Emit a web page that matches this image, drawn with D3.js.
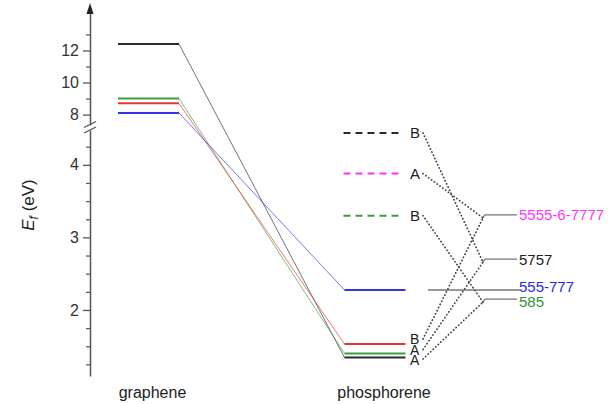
<!DOCTYPE html>
<html><head><meta charset="utf-8">
<script src="https://cdn.jsdelivr.net/npm/d3@7"></script>
<style>
body{margin:0;background:#fff;}
text{font-family:"Liberation Sans",Arial,Helvetica,sans-serif;}
</style></head>
<body><svg id="c" width="608" height="404"></svg>
<script>
// ---- data ----
const categories = ["graphene", "phosphorene"];
const levelNames = ["black", "green", "red", "blue"];
const grapheneEf = [12.4, 9.0, 8.7, 8.1];
const phosphoreneEf = [1.345, 1.40, 1.53, 2.275];
const phosLabels = ["A", "A", "B", null];
const dashedEf = [4.44, 3.88, 3.30];
const dashedLabels = ["B", "A", "B"];
const dashedNames = ["black", "magenta", "green"];
const defectTypes = ["5555-6-7777", "5757", "555-777", "585"];
const defectEf = [3.31, 2.70, 2.275, 2.15];
const defectColors = ["magenta", "black", "blue", "green"];
// dotted links: [source kind, source index, defect index]
const links = [
  ["dashed", 0, 1], ["dashed", 1, 0], ["dashed", 2, 3],
  ["solid", 2, 0], ["solid", 1, 1], ["solid", 0, 3]
];
const lowTicks = [2, 3, 4];
const highTicks = [8, 10, 12];

// ---- styles ----
const col = {black:"#2a2a2a", green:"#3d9a3d", red:"#e53535", blue:"#3535e0", magenta:"#ff33ff"};
const textCol = {black:"#222", green:"#2f952f", blue:"#2828e8", magenta:"#ff33ff"};
const labelDy = {"5555-6-7777": 5.5, "5757": 5.5, "555-777": 1.5, "585": 8};

const svg = d3.select("#c");
const axX = 90;
const yLow = d3.scaleLinear().domain([1.09, 4.48]).range([376, 130]);
const yHigh = d3.scaleLinear().domain([7.35, 14.65]).range([125, 8]);
const y = v => v < 6 ? yLow(v) : yHigh(v);
const x = d3.scalePoint().domain(categories).range([148.5, 375]);
const hw = 30.5;

// axes
function drawAxis(scale, major, minor) {
  const gMin = svg.append("g").attr("transform", `translate(${axX},0)`)
    .call(d3.axisLeft(scale).tickValues(minor).tickSize(4).tickFormat(""));
  gMin.select(".domain").remove();
  gMin.selectAll("line").attr("stroke", "#555").attr("stroke-width", 1.2);
  const g = svg.append("g").attr("transform", `translate(${axX},0)`)
    .call(d3.axisLeft(scale).tickValues(major).tickSize(7).tickSizeOuter(0).tickPadding(4).tickFormat(d3.format("d")));
  g.select(".domain").attr("stroke", "#555").attr("stroke-width", 1.5);
  g.selectAll("line").attr("stroke", "#555").attr("stroke-width", 1.3);
  g.selectAll("text").attr("font-size", 16).attr("fill", "#333")
    .attr("font-family", "Liberation Sans, Arial, sans-serif");
}
drawAxis(yLow, lowTicks, d3.range(1.25, 4.26, 0.25).filter(v => !lowTicks.includes(v)));
drawAxis(yHigh, highTicks, [9, 11, 13]);

// arrow
svg.append("path").attr("d", `M${axX},3 L${axX-3.5},14 L${axX+3.5},14 Z`).attr("fill", "#222");
// break marks
[[127.5,121.5],[133,127]].forEach(([a,b]) => {
  svg.append("line").attr("x1", axX-6).attr("y1", a).attr("x2", axX+6).attr("y2", b)
    .attr("stroke", "#555").attr("stroke-width", 1.3);
});

// y label
const yl = svg.append("text").attr("transform", "translate(34,205) rotate(-90)")
  .attr("text-anchor", "middle").attr("font-size", 17).attr("fill", "#222");
yl.append("tspan").attr("font-style", "italic").text("E");
yl.append("tspan").attr("font-style", "italic").attr("font-size", 12).attr("dy", 4).text("f");
yl.append("tspan").attr("dy", -4).text(" (eV)");

// category labels
categories.forEach((c, i) => {
  svg.append("text").attr("x", x(c) + (i ? 9 : 4)).attr("y", 398).attr("text-anchor", "middle")
    .attr("font-size", 16).attr("fill", "#222").text(c);
});

const gx = x("graphene"), px = x("phosphorene");
// diagonal connectors
levelNames.forEach((n, i) => {
  svg.append("line").attr("x1", gx + hw).attr("y1", y(grapheneEf[i]))
    .attr("x2", px - hw).attr("y2", y(phosphoreneEf[i]))
    .attr("stroke", col[n]).attr("stroke-width", 1).attr("opacity", 0.65);
});
// levels
levelNames.forEach((n, i) => {
  svg.append("line").attr("x1", gx - hw).attr("x2", gx + hw)
    .attr("y1", y(grapheneEf[i])).attr("y2", y(grapheneEf[i]))
    .attr("stroke", col[n]).attr("stroke-width", 2);
  svg.append("line").attr("x1", px - hw).attr("x2", px + hw)
    .attr("y1", y(phosphoreneEf[i])).attr("y2", y(phosphoreneEf[i]))
    .attr("stroke", col[n]).attr("stroke-width", 2);
});
dashedNames.forEach((n, i) => {
  svg.append("line").attr("x1", px - hw - 1).attr("x2", px + hw - 6)
    .attr("y1", y(dashedEf[i])).attr("y2", y(dashedEf[i]))
    .attr("stroke", col[n]).attr("stroke-width", 2).attr("stroke-dasharray", "7,5");
});

// A/B labels
const labX = 410;
dashedLabels.forEach((l, i) => {
  svg.append("text").attr("x", labX).attr("y", y(dashedEf[i]) + 5.5)
    .attr("font-size", 15).attr("fill", "#222").text(l);
});
const phosLabelY = {0: 365, 1: 354.5, 2: 344};
phosLabels.forEach((l, i) => {
  if (!l) return;
  svg.append("text").attr("x", labX).attr("y", phosLabelY[i])
    .attr("font-size", 14).attr("fill", "#222").text(l);
});
const phosLabelMid = {0: 359, 1: 349.5, 2: 339};

// defect type connectors + labels
const conX0 = 484, conX1 = 517;
defectTypes.forEach((d, i) => {
  const yy = y(defectEf[i]);
  if (d === "555-777") {
    svg.append("line").attr("x1", 428).attr("x2", 520).attr("y1", yy).attr("y2", yy)
      .attr("stroke", "#777").attr("stroke-width", 1.3);
  } else {
    svg.append("path").attr("d", `M${conX0-2},${yy+4} L${conX0+1},${yy} L${conX1},${yy}`)
      .attr("fill", "none").attr("stroke", "#777").attr("stroke-width", 1.3);
  }
  svg.append("text").attr("x", 519).attr("y", yy + labelDy[d]).attr("font-size", 15)
    .attr("fill", textCol[defectColors[i]]).text(d);
});

// dotted links
links.forEach(([kind, si, di]) => {
  const y1 = kind === "dashed" ? y(dashedEf[si]) : phosLabelMid[si];
  const yy = y(defectEf[di]);
  svg.append("line").attr("x1", 423).attr("y1", y1).attr("x2", conX0 - 1).attr("y2", yy + 3)
    .attr("stroke", "#444").attr("stroke-width", 1.7).attr("stroke-dasharray", "0.3,3.2")
    .attr("stroke-linecap", "round");
});
</script></body></html>
